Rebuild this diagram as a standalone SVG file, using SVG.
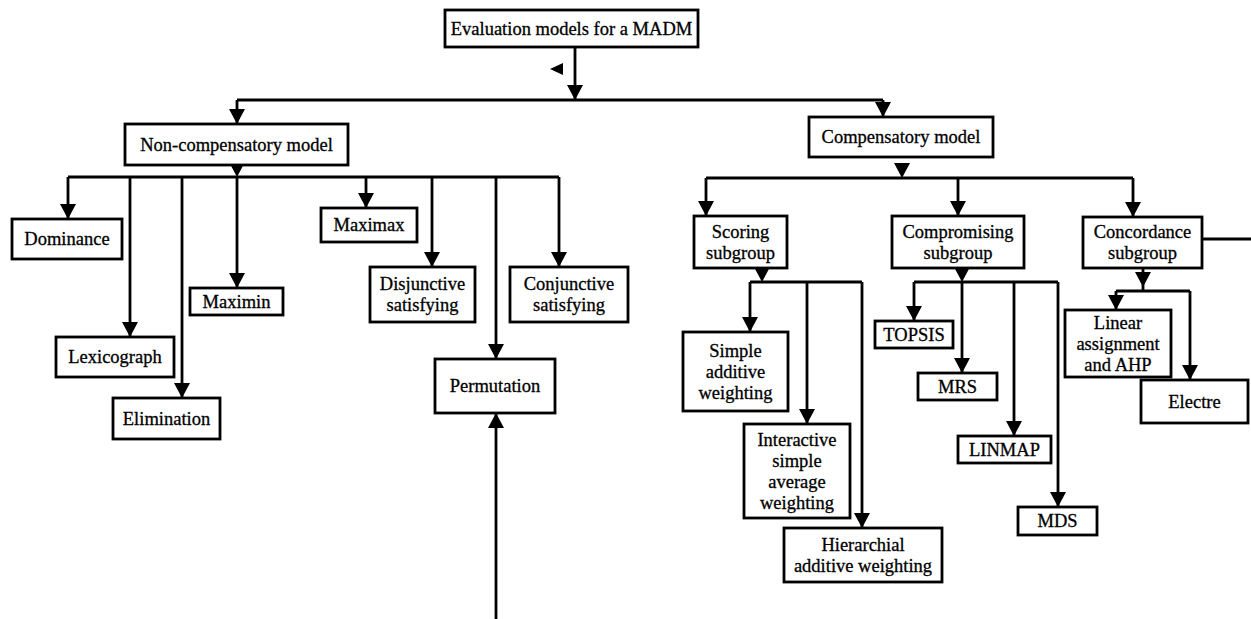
<svg xmlns="http://www.w3.org/2000/svg" xmlns:xlink="http://www.w3.org/1999/xlink" width="1251" height="619" viewBox="0 0 1251 619">
<style>
.box{fill:#fff;stroke:#000;stroke-width:2.8}
text{font-family:'Liberation Serif','Times New Roman',Times,'DejaVu Serif',serif;font-size:18.5px;fill:#000;stroke:#000;stroke-width:0.3;text-anchor:middle}
.c{fill:none;stroke:#000;stroke-width:2.8}
</style>
<defs>
<path id="ad" d="M-8,-15 L8,-15 L0,0 z" fill="#000"/>
</defs>
<rect width="1251" height="619" fill="#fff"/>
<g id="connectors">
<line class="c" x1="575" y1="47" x2="575" y2="100"/><use href="#ad" xlink:href="#ad" x="575" y="100"/>
<polygon points="550,69 563,63 563,75" fill="#000"/>
<line class="c" x1="237" y1="100" x2="883" y2="100"/>
<line class="c" x1="237" y1="100" x2="237" y2="124"/><use href="#ad" xlink:href="#ad" x="237" y="124"/>
<line class="c" x1="883" y1="100" x2="883" y2="117"/><use href="#ad" xlink:href="#ad" x="883" y="117"/>
<use href="#ad" xlink:href="#ad" x="237" y="177"/>
<line class="c" x1="68" y1="177" x2="559" y2="177"/>
<line class="c" x1="68" y1="177" x2="68" y2="219"/><use href="#ad" xlink:href="#ad" x="68" y="219"/>
<line class="c" x1="130" y1="177" x2="130" y2="337"/><use href="#ad" xlink:href="#ad" x="130" y="337"/>
<line class="c" x1="182" y1="177" x2="182" y2="398"/><use href="#ad" xlink:href="#ad" x="182" y="398"/>
<line class="c" x1="237" y1="177" x2="237" y2="288"/><use href="#ad" xlink:href="#ad" x="237" y="288"/>
<line class="c" x1="366" y1="177" x2="366" y2="208"/><use href="#ad" xlink:href="#ad" x="366" y="208"/>
<line class="c" x1="432" y1="177" x2="432" y2="267"/><use href="#ad" xlink:href="#ad" x="432" y="267"/>
<line class="c" x1="496" y1="177" x2="496" y2="359"/><use href="#ad" xlink:href="#ad" x="496" y="359"/>
<line class="c" x1="559" y1="177" x2="559" y2="267"/><use href="#ad" xlink:href="#ad" x="559" y="267"/>
<line class="c" x1="496" y1="619" x2="496" y2="413"/><use href="#ad" xlink:href="#ad" transform="translate(496,413) rotate(180)"/>
<use href="#ad" xlink:href="#ad" x="902" y="178"/>
<line class="c" x1="706" y1="178" x2="1133" y2="178"/>
<line class="c" x1="706" y1="178" x2="706" y2="216"/><use href="#ad" xlink:href="#ad" x="706" y="216"/>
<line class="c" x1="958" y1="178" x2="958" y2="216"/><use href="#ad" xlink:href="#ad" x="958" y="216"/>
<line class="c" x1="1133" y1="178" x2="1133" y2="217"/><use href="#ad" xlink:href="#ad" x="1133" y="217"/>
<use href="#ad" xlink:href="#ad" x="762" y="282"/>
<line class="c" x1="750" y1="282" x2="862" y2="282"/>
<line class="c" x1="750" y1="282" x2="750" y2="332"/><use href="#ad" xlink:href="#ad" x="750" y="332"/>
<line class="c" x1="807" y1="282" x2="807" y2="424"/><use href="#ad" xlink:href="#ad" x="807" y="424"/>
<line class="c" x1="862" y1="282" x2="862" y2="528"/><use href="#ad" xlink:href="#ad" x="862" y="528"/>
<use href="#ad" xlink:href="#ad" x="962" y="282"/>
<line class="c" x1="914" y1="282" x2="1058" y2="282"/>
<line class="c" x1="914" y1="282" x2="914" y2="321"/><use href="#ad" xlink:href="#ad" x="914" y="321"/>
<line class="c" x1="962" y1="282" x2="962" y2="373"/><use href="#ad" xlink:href="#ad" x="962" y="373"/>
<line class="c" x1="1014" y1="282" x2="1014" y2="436"/><use href="#ad" xlink:href="#ad" x="1014" y="436"/>
<line class="c" x1="1058" y1="282" x2="1058" y2="507"/><use href="#ad" xlink:href="#ad" x="1058" y="507"/>
<line class="c" x1="1143" y1="268" x2="1143" y2="291"/><use href="#ad" xlink:href="#ad" x="1143" y="287"/>
<line class="c" x1="1116" y1="291" x2="1190" y2="291"/>
<line class="c" x1="1116" y1="291" x2="1116" y2="310"/><use href="#ad" xlink:href="#ad" x="1116" y="310"/>
<line class="c" x1="1190" y1="291" x2="1190" y2="380"/><use href="#ad" xlink:href="#ad" x="1190" y="380"/>
<line class="c" x1="1202" y1="239" x2="1251" y2="239"/>
</g>
<g id="root"><rect class="box" x="445" y="10" width="253" height="37"/><text x="571.5" y="35">Evaluation models for a MADM</text></g>
<g id="noncomp"><rect class="box" x="125" y="124" width="223" height="41"/><text x="236.5" y="150.5">Non-compensatory model</text></g>
<g id="comp"><rect class="box" x="809" y="117" width="184" height="40"/><text x="901" y="143">Compensatory model</text></g>
<g id="dominance"><rect class="box" x="12" y="219" width="110" height="40"/><text x="67" y="245">Dominance</text></g>
<g id="lexicograph"><rect class="box" x="56" y="337" width="118" height="40"/><text x="115" y="363">Lexicograph</text></g>
<g id="elimination"><rect class="box" x="113" y="398" width="107" height="41"/><text x="166.5" y="424.5">Elimination</text></g>
<g id="maximin"><rect class="box" x="190" y="288" width="93" height="27"/><text x="236.5" y="307.5">Maximin</text></g>
<g id="maximax"><rect class="box" x="321" y="208" width="96" height="34"/><text x="369" y="231">Maximax</text></g>
<g id="disjunctive"><rect class="box" x="370" y="267" width="105" height="55"/><text x="422.5" y="290">Disjunctive</text><text x="422.5" y="311">satisfying</text></g>
<g id="conjunctive"><rect class="box" x="510" y="267" width="118" height="55"/><text x="569" y="290">Conjunctive</text><text x="569" y="311">satisfying</text></g>
<g id="permutation"><rect class="box" x="435" y="359" width="120" height="54"/><text x="495" y="392">Permutation</text></g>
<g id="scoring"><rect class="box" x="694" y="216" width="93" height="52"/><text x="740.5" y="237.5">Scoring</text><text x="740.5" y="258.5">subgroup</text></g>
<g id="compromising"><rect class="box" x="892" y="216" width="132" height="52"/><text x="958" y="237.5">Compromising</text><text x="958" y="258.5">subgroup</text></g>
<g id="concordance"><rect class="box" x="1083" y="217" width="119" height="51"/><text x="1142.5" y="238">Concordance</text><text x="1142.5" y="259">subgroup</text></g>
<g id="simple"><rect class="box" x="683" y="332" width="105" height="79"/><text x="735.5" y="356.5">Simple</text><text x="735.5" y="377.5">additive</text><text x="735.5" y="398.5">weighting</text></g>
<g id="interactive"><rect class="box" x="744" y="424" width="106" height="94"/><text x="797" y="445.5">Interactive</text><text x="797" y="466.5">simple</text><text x="797" y="487.5">average</text><text x="797" y="508.5">weighting</text></g>
<g id="hierarchial"><rect class="box" x="784" y="528" width="158" height="54"/><text x="863" y="550.5">Hierarchial</text><text x="863" y="571.5">additive weighting</text></g>
<g id="topsis"><rect class="box" x="875" y="321" width="78" height="27"/><text x="914" y="340.5">TOPSIS</text></g>
<g id="mrs"><rect class="box" x="918" y="373" width="79" height="27"/><text x="957.5" y="392.5">MRS</text></g>
<g id="linmap"><rect class="box" x="958" y="436" width="93" height="27"/><text x="1004.5" y="455.5">LINMAP</text></g>
<g id="mds"><rect class="box" x="1018" y="507" width="79" height="28"/><text x="1057.5" y="527">MDS</text></g>
<g id="linear"><rect class="box" x="1065" y="310" width="106" height="67"/><text x="1118" y="328.5">Linear</text><text x="1118" y="349.5">assignment</text><text x="1118" y="370.5">and AHP</text></g>
<g id="electre"><rect class="box" x="1141" y="380" width="107" height="43"/><text x="1194.5" y="407.5">Electre</text></g>
</svg>
